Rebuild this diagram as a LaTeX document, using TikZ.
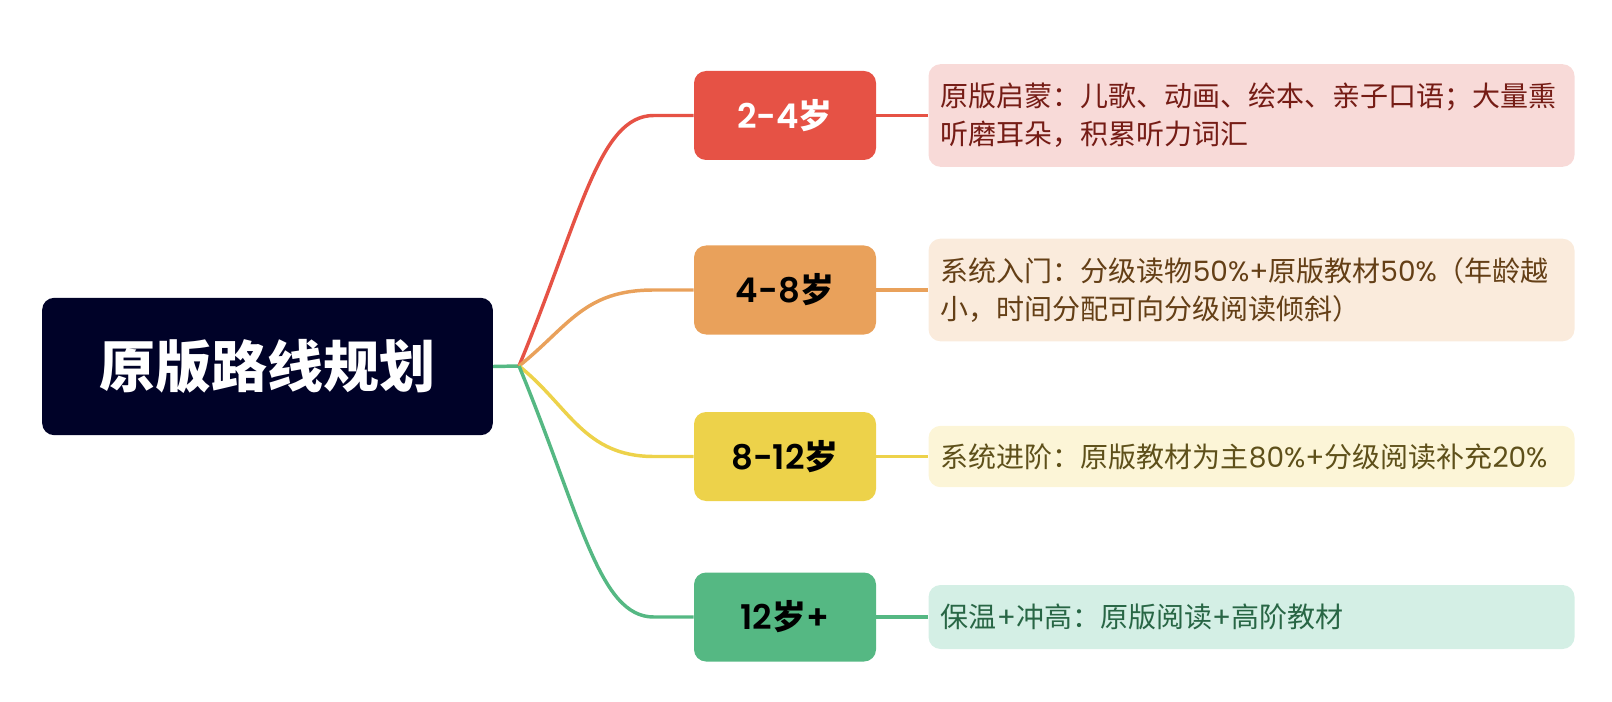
\documentclass[tikz,border=0pt]{standalone}
\usepackage{fontspec}
\newfontfamily\cjk{Noto Sans CJK SC}
\newfontfamily\pop{Poppins}[BoldFont={* SemiBold}]
\usetikzlibrary{positioning}

\definecolor{rootbg}{HTML}{000228}
\definecolor{redc}{HTML}{E65245}
\definecolor{orangec}{HTML}{E9A15B}
\definecolor{yellowc}{HTML}{EDD24A}
\definecolor{greenc}{HTML}{55B883}
\definecolor{redbg}{HTML}{F8DAD8}
\definecolor{orangebg}{HTML}{FAEBDC}
\definecolor{yellowbg}{HTML}{FCF5D7}
\definecolor{greenbg}{HTML}{D4EFE5}
\definecolor{redtx}{HTML}{751C15}
\definecolor{orangetx}{HTML}{643F16}
\definecolor{yellowtx}{HTML}{5E501A}
\definecolor{greentx}{HTML}{286645}

\tikzset{
    rootbox/.style={fill=rootbg, text=white, rounded corners=9pt,
        minimum width=338pt, minimum height=103pt,
        font=\cjk\bfseries\fontsize{42}{48}\selectfont},
    agebox/.style={rounded corners=9pt, minimum width=136.5pt, minimum height=66.75pt,
        font=\bfseries\fontsize{25.5}{30}\selectfont},
    leafbox/.style={rounded corners=9pt, minimum width=484.5pt, text width=466pt,
        inner sep=9pt, align=left, font=\cjk\fontsize{21}{28.5}\selectfont},
    link/.style={line width=2.6pt},
}

\begin{document}
\begin{tikzpicture}[x=0.75pt, y=-0.75pt]
    \useasboundingbox (0,0) rectangle (1612,702);

    % Root of the map
    \node[rootbox] (root) at (267.5,366.5) {原版路线规划};
    \coordinate (hub) at (519,366);

    % Age stages
    \node[agebox, fill=redc, text=white] (a1) at (785,115.5) {{\pop 2-4}{\cjk 岁}};
    \node[agebox, fill=orangec] (a2) at (785,290) {{\pop 4-8}{\cjk 岁}};
    \node[agebox, fill=yellowc] (a3) at (785,456.5) {{\pop 8-12}{\cjk 岁}};
    \node[agebox, fill=greenc] (a4) at (785,617) {{\pop 12}{\cjk 岁}{\pop +}};

    % Notes for each stage
    \node[leafbox, fill=redbg, text=redtx, minimum height=77pt, right=39pt of a1] (l1)
        {原版启蒙：儿歌、动画、绘本、亲子口语；大量熏\\听磨耳朵，积累听力词汇};
    \node[leafbox, fill=orangebg, text=orangetx, minimum height=77pt, right=39pt of a2] (l2)
        {系统入门：分级读物{\pop 50\%+}原版教材{\pop 50\%}（年龄越\\小，时间分配可向分级阅读倾斜）};
    \node[leafbox, fill=yellowbg, text=yellowtx, minimum height=46pt, right=39pt of a3] (l3)
        {系统进阶：原版教材为主{\pop 80\%+}分级阅读补充{\pop 20\%}};
    \node[leafbox, fill=greenbg, text=greentx, minimum height=48pt, right=39pt of a4] (l4)
        {保温{\pop +}冲高：原版阅读{\pop +}高阶教材};

    % Stem from the root
    \draw[link, greenc] (root.east) -- (hub);

    % Branches to the stages
    \draw[link, redc] (hub) .. controls +(62,-150) and +(-55,0) .. ([xshift=-30pt]a1.west) -- (a1.west);
    \draw[link, orangec] (hub) .. controls +(50,-40) and +(-70,0) .. ([xshift=-30pt]a2.west) -- (a2.west);
    \draw[link, yellowc] (hub) .. controls +(50,40) and +(-70,0) .. ([xshift=-30pt]a3.west) -- (a3.west);
    \draw[link, greenc] (hub) .. controls +(62,150) and +(-55,0) .. ([xshift=-30pt]a4.west) -- (a4.west);

    % Links to the notes
    \draw[link, redc] (a1.east) -- (l1.west);
    \draw[link, orangec] (a2.east) -- (l2.west);
    \draw[link, yellowc] (a3.east) -- (l3.west);
    \draw[link, greenc] (a4.east) -- (l4.west);
\end{tikzpicture}
\end{document}
